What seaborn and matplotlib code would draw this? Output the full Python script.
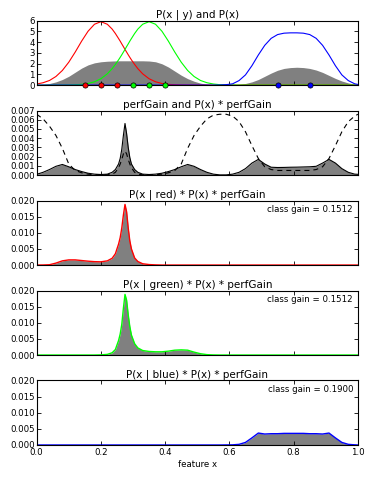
import matplotlib
matplotlib.use("Agg")
import matplotlib.pyplot as plt
import seaborn as sns
from matplotlib.ticker import FormatStrFormatter

# ---------------- data ----------------
xs = [0.0, 0.02, 0.04, 0.06, 0.08, 0.10, 0.12, 0.14, 0.16, 0.18,
      0.20, 0.22, 0.235, 0.245, 0.255, 0.26, 0.265, 0.27, 0.275, 0.28,
      0.285, 0.29, 0.295, 0.305, 0.315, 0.33, 0.35, 0.37, 0.39, 0.41,
      0.43, 0.45, 0.47, 0.49, 0.51, 0.53, 0.55, 0.57, 0.59, 0.61,
      0.63, 0.65, 0.67, 0.69, 0.71, 0.73, 0.75, 0.77, 0.79, 0.81,
      0.83, 0.85, 0.87, 0.89, 0.91, 0.93, 0.95, 0.97, 0.99, 1.0]

red_pdf = [0.10, 0.22, 0.43, 0.80, 1.36, 2.13, 3.07, 4.09, 5.01, 5.66,
           5.90, 5.66, 5.21, 4.80, 4.33, 4.09, 3.83, 3.58, 3.32, 3.07,
           2.82, 2.58, 2.35, 1.92, 1.53, 1.05, 0.59, 0.31, 0.15, 0.07,
           0.03, 0.01, 0.0, 0.0, 0.0, 0.0, 0.0, 0.0, 0.0, 0.0,
           0.0, 0.0, 0.0, 0.0, 0.0, 0.0, 0.0, 0.0, 0.0, 0.0,
           0.0, 0.0, 0.0, 0.0, 0.0, 0.0, 0.0, 0.0, 0.0, 0.0]

green_pdf = [0.0, 0.0, 0.0, 0.0, 0.0, 0.01, 0.03, 0.07, 0.15, 0.31,
             0.59, 1.05, 1.53, 1.92, 2.35, 2.58, 2.82, 3.07, 3.32, 3.58,
             3.83, 4.09, 4.33, 4.80, 5.21, 5.66, 5.90, 5.66, 5.01, 4.09,
             3.07, 2.13, 1.36, 0.80, 0.43, 0.22, 0.10, 0.04, 0.02, 0.01,
             0.0, 0.0, 0.0, 0.0, 0.0, 0.0, 0.0, 0.0, 0.0, 0.0,
             0.0, 0.0, 0.0, 0.0, 0.0, 0.0, 0.0, 0.0, 0.0, 0.0]

blue_pdf = [0.0, 0.0, 0.0, 0.0, 0.0, 0.0, 0.0, 0.0, 0.0, 0.0,
            0.0, 0.0, 0.0, 0.0, 0.0, 0.0, 0.0, 0.0, 0.0, 0.0,
            0.0, 0.0, 0.0, 0.0, 0.0, 0.0, 0.0, 0.0, 0.0, 0.0,
            0.0, 0.0, 0.0, 0.0, 0.0, 0.0, 0.0, 0.01, 0.04, 0.12,
            0.42, 0.95, 1.80, 2.80, 3.70, 4.35, 4.70, 4.83, 4.86, 4.86,
            4.83, 4.70, 4.35, 3.70, 2.80, 1.80, 0.95, 0.42, 0.12, 0.06]

px_density = [0.03, 0.07, 0.15, 0.30, 0.52, 0.82, 1.20, 1.58, 1.88, 2.07,
              2.17, 2.22, 2.24, 2.25, 2.26, 2.26, 2.26, 2.26, 2.26, 2.26,
              2.26, 2.26, 2.26, 2.26, 2.26, 2.26, 2.24, 2.17, 1.98, 1.68,
              1.30, 0.92, 0.60, 0.36, 0.18, 0.08, 0.04, 0.02, 0.02, 0.03,
              0.07, 0.15, 0.30, 0.52, 0.82, 1.12, 1.38, 1.55, 1.63, 1.66,
              1.63, 1.55, 1.40, 1.18, 0.90, 0.62, 0.38, 0.20, 0.08, 0.05]

red_pts = [0.15, 0.20, 0.25]
green_pts = [0.30, 0.35, 0.40]
blue_pts = [0.75, 0.85]
red_pts_y = [0.0, 0.0, 0.0]
green_pts_y = [0.0, 0.0, 0.0]
blue_pts_y = [0.0, 0.0]

perf_gain = [0.0066, 0.0061, 0.0053, 0.0043, 0.0029, 0.0012, 0.0005, 0.00025, 0.0001, 0.00004,
             0.00002, 0.00003, 0.0001, 0.0003, 0.0008, 0.0012, 0.0017, 0.0023, 0.0026, 0.0023,
             0.0017, 0.0012, 0.0008, 0.0003, 0.0001, 0.00003, 0.00002, 0.00004, 0.0001, 0.00025,
             0.0005, 0.0012, 0.0029, 0.0043, 0.0053, 0.0061, 0.0065, 0.0066, 0.0066, 0.0064,
             0.0058, 0.0047, 0.0032, 0.0018, 0.0009, 0.0006, 0.0005, 0.0005, 0.0005, 0.0005,
             0.0005, 0.0005, 0.0006, 0.0009, 0.0018, 0.0032, 0.0047, 0.0058, 0.0064, 0.0066]

px_gain = [0.00008, 0.0003, 0.0006, 0.00095, 0.00115, 0.0009, 0.0006, 0.00038, 0.0002, 0.0001,
           0.00006, 0.0001, 0.0003, 0.0006, 0.0012, 0.0018, 0.0028, 0.0043, 0.0056, 0.0045,
           0.0030, 0.0019, 0.0012, 0.0006, 0.0003, 0.0001, 0.00006, 0.0001, 0.0002, 0.00038,
           0.0006, 0.0009, 0.00115, 0.00095, 0.0006, 0.0003, 0.0001, 0.00002, 0.00002, 0.0001,
           0.0003, 0.0007, 0.0013, 0.0017, 0.0012, 0.00085, 0.00082, 0.00083, 0.00085, 0.00086,
           0.00088, 0.0009, 0.00095, 0.0013, 0.0017, 0.0013, 0.0007, 0.0003, 0.0001, 0.00008]

red_gain = [0.0, 0.00002, 0.0001, 0.0006, 0.0013, 0.0016, 0.0016, 0.0014, 0.0012, 0.00105,
            0.0010, 0.0013, 0.0021, 0.0035, 0.0065, 0.0085, 0.0115, 0.0155, 0.0188, 0.0165,
            0.0115, 0.0075, 0.0050, 0.0022, 0.0011, 0.0004, 0.00015, 0.00005, 0.0, 0.0,
            0.0, 0.0, 0.0, 0.0, 0.0, 0.0, 0.0, 0.0, 0.0, 0.0,
            0.0, 0.0, 0.0, 0.0, 0.0, 0.0, 0.0, 0.0, 0.0, 0.0,
            0.0, 0.0, 0.0, 0.0, 0.0, 0.0, 0.0, 0.0, 0.0, 0.0]

green_gain = [0.0, 0.0, 0.0, 0.0, 0.0, 0.0, 0.0, 0.0, 0.0, 0.0,
              0.00005, 0.0002, 0.0007, 0.0017, 0.0045, 0.0065, 0.0095, 0.0145, 0.0188, 0.0170,
              0.0125, 0.0088, 0.0062, 0.0035, 0.0022, 0.0014, 0.0011, 0.0010, 0.0010, 0.0012,
              0.0015, 0.0016, 0.0015, 0.0009, 0.0004, 0.00012, 0.00003, 0.0, 0.0, 0.0,
              0.0, 0.0, 0.0, 0.0, 0.0, 0.0, 0.0, 0.0, 0.0, 0.0,
              0.0, 0.0, 0.0, 0.0, 0.0, 0.0, 0.0, 0.0, 0.0, 0.0]

blue_gain = [0.0, 0.0, 0.0, 0.0, 0.0, 0.0, 0.0, 0.0, 0.0, 0.0,
             0.0, 0.0, 0.0, 0.0, 0.0, 0.0, 0.0, 0.0, 0.0, 0.0,
             0.0, 0.0, 0.0, 0.0, 0.0, 0.0, 0.0, 0.0, 0.0, 0.0,
             0.0, 0.0, 0.0, 0.0, 0.0, 0.0, 0.0, 0.0, 0.00002, 0.00005,
             0.0002, 0.0008, 0.0022, 0.0037, 0.0034, 0.0035, 0.0035, 0.0036, 0.0036, 0.0036,
             0.0036, 0.0035, 0.0035, 0.0034, 0.0037, 0.0022, 0.0008, 0.0002, 0.00005, 0.0]

class_gains = ["0.1512", "0.1512", "0.1900"]
titles = ["P(x | y) and P(x)",
          "perfGain and P(x) * perfGain",
          "P(x | red) * P(x) * perfGain",
          "P(x | green) * P(x) * perfGain",
          "P(x | blue) * P(x) * perfGain"]
x_ticks = [0.0, 0.2, 0.4, 0.6, 0.8, 1.0]
y_ticks_top = [0, 1, 2, 3, 4, 5, 6]
y_ticks_gain = [0.000, 0.001, 0.002, 0.003, 0.004, 0.005, 0.006, 0.007]
y_ticks_class = [0.000, 0.005, 0.010, 0.015, 0.020]

# ---------------- style ----------------
plt.rcParams.update({
    "font.family": ["DejaVu Sans"],
    "font.size": 6.2,
    "xtick.direction": "in",
    "ytick.direction": "in",
    "xtick.top": True,
    "ytick.right": True,
    "xtick.major.size": 3,
    "ytick.major.size": 3,
    "xtick.major.width": 0.6,
    "ytick.major.width": 0.6,
    "xtick.major.pad": 2.5,
    "ytick.major.pad": 1.5,
    "axes.linewidth": 0.8,
    "axes.edgecolor": "black",
    "lines.scale_dashes": False,
})

RED, GREEN, BLUE = "#ff0000", "#00ff00", "#0000ff"
GRAY = "0.5"

fig = plt.figure(figsize=(3.74, 4.79), dpi=100)
axes = fig.subplots(5, 1, sharex=True)
fig.subplots_adjust(left=0.098, right=0.957, top=0.957, bottom=0.071, hspace=0.395)

# Panel 1
ax = axes[0]
ax.fill_between(xs, 0, px_density, color=GRAY, lw=0)
for vals, c in [(red_pdf, RED), (green_pdf, GREEN), (blue_pdf, BLUE)]:
    sns.lineplot(x=xs, y=vals, color=c, lw=0.8, ax=ax, estimator=None, sort=False)
for px_, py_, c in [(red_pts, red_pts_y, RED), (green_pts, green_pts_y, GREEN), (blue_pts, blue_pts_y, BLUE)]:
    sns.scatterplot(x=px_, y=py_, color=c, s=14, edgecolor="black", linewidth=0.5,
                    ax=ax, clip_on=False, zorder=4)
ax.set_ylim(0, 6)
ax.set_yticks(y_ticks_top)

# Panel 2
ax = axes[1]
ax.fill_between(xs, 0, px_gain, color=GRAY, lw=0)
sns.lineplot(x=xs, y=px_gain, color="black", lw=0.8, ax=ax, estimator=None, sort=False)
sns.lineplot(x=xs, y=perf_gain, color="black", lw=0.8, ax=ax, estimator=None, sort=False,
             linestyle=(0, (3.6, 2.9)))
ax.set_ylim(0, 0.007)
ax.set_yticks(y_ticks_gain)
ax.yaxis.set_major_formatter(FormatStrFormatter("%.3f"))

# Panels 3-5
for ax, vals, c, g in [(axes[2], red_gain, RED, class_gains[0]),
                       (axes[3], green_gain, GREEN, class_gains[1]),
                       (axes[4], blue_gain, BLUE, class_gains[2])]:
    ax.fill_between(xs, 0, vals, color=GRAY, lw=0)
    sns.lineplot(x=xs, y=vals, color=c, lw=1.0, ax=ax, estimator=None, sort=False)
    ax.set_ylim(0, 0.02)
    ax.set_yticks(y_ticks_class)
    ax.yaxis.set_major_formatter(FormatStrFormatter("%.3f"))
    ax.text(0.985, 0.93, "class gain = " + g, transform=ax.transAxes,
            ha="right", va="top", fontsize=6.2)

for ax, t in zip(axes, titles):
    ax.set_title(t, fontsize=7.45, pad=2.2)
    ax.set_xlim(0, 1)
    ax.set_xticks(x_ticks)
    ax.set_ylabel("")
    ax.tick_params(labelsize=6.2)

axes[-1].xaxis.set_major_formatter(FormatStrFormatter("%.1f"))
axes[-1].set_xlabel("feature x", fontsize=6.2, labelpad=2)

fig.savefig("out.png", dpi=100)
